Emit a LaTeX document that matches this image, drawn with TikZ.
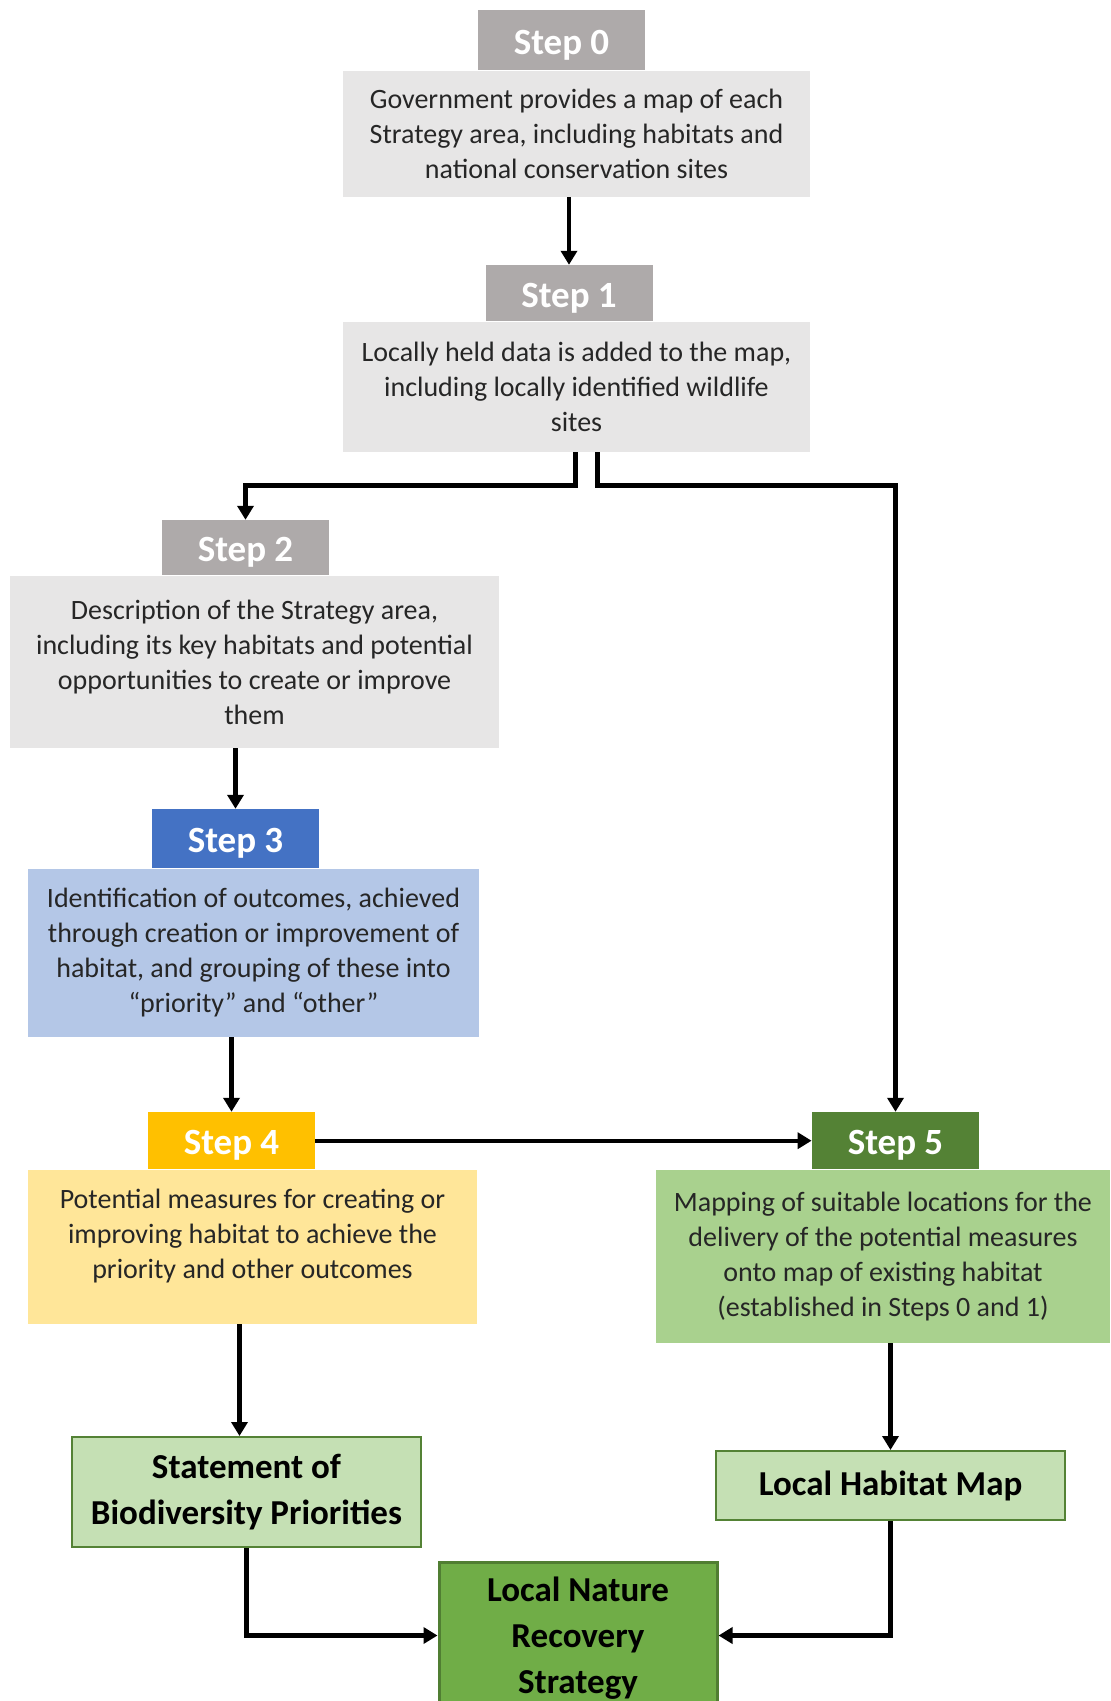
\documentclass[tikz,border=0pt]{standalone}
\usepackage{fontspec}
\setmainfont{Carlito}
\usetikzlibrary{positioning,arrows.meta}

\definecolor{tabGrey}{HTML}{AEAAAA}
\definecolor{boxGrey}{HTML}{E7E6E6}
\definecolor{tabBlue}{HTML}{4472C4}
\definecolor{boxBlue}{HTML}{B4C7E7}
\definecolor{tabGold}{HTML}{FFC000}
\definecolor{boxGold}{HTML}{FFE699}
\definecolor{tabGreen}{HTML}{548235}
\definecolor{boxGreen}{HTML}{A9D18E}
\definecolor{outGreen}{HTML}{C5E0B4}
\definecolor{nrsGreen}{HTML}{70AD47}
\definecolor{nrsEdge}{HTML}{507E32}
\definecolor{textGrey}{HTML}{262626}

\tikzset{
  steptab/.style={fill=#1, text=white, font=\fontsize{18.5}{22}\selectfont\bfseries,
    minimum width=83.5pt, minimum height=28.5pt, inner sep=0pt,
    text height=14pt, text depth=0pt},
  stepbox/.style={fill=#1, text=textGrey, font=\fontsize{14}{17.5}\selectfont,
    align=center, inner sep=0pt},
  outbox/.style={fill=outGreen, draw=tabGreen, line width=1pt, text=black,
    font=\fontsize{17.5}{23}\selectfont\bfseries, align=center, minimum width=174.5pt},
  flow/.style={line width=2.2pt, -{Triangle[length=7pt,width=8pt]}},
}

\begin{document}
\begin{tikzpicture}[x=0.5pt, y=-0.5pt]
% page frame, the last box runs off the bottom edge
\useasboundingbox (0,0) rectangle (1110,1701);
\clip (0,0) rectangle (1110,1701);
\fill[white] (0,0) rectangle (1110,1701);

% Step boxes
\node[stepbox=boxGrey, minimum width=233.5pt, minimum height=63pt] (box0) at (576.5,134)
  {Government provides a map of each\\Strategy area, including habitats and\\national conservation sites};
\node[stepbox=boxGrey, minimum width=233.5pt, minimum height=65pt] (box1) at (576.5,387)
  {Locally held data is added to the map,\\including locally identified wildlife\\sites};
\node[stepbox=boxGrey, minimum width=244.5pt, minimum height=86pt] (box2) at (254.5,662)
  {Description of the Strategy area,\\including its key habitats and potential\\opportunities to create or improve\\them};
\node[stepbox=boxBlue, minimum width=225.5pt, minimum height=84pt] (box3) at (253.5,953)
  {Identification of outcomes, achieved\\through creation or improvement of\\habitat, and grouping of these into\\“priority” and “other”};
\node[stepbox=boxGold, minimum width=224.5pt, minimum height=77pt, text depth=13.5pt] (box4) at (252.5,1247)
  {Potential measures for creating or\\improving habitat to achieve the\\priority and other outcomes};
\node[stepbox=boxGreen, minimum width=227pt, minimum height=86.5pt] (box5) at (883,1256.5)
  {Mapping of suitable locations for the\\delivery of the potential measures\\onto map of existing habitat\\(established in Steps 0 and 1)};

% Step tabs
\node[steptab=tabGrey, minimum height=30pt, above=0pt of box0, xshift=-7.5pt] (tab0) {Step 0};
\node[steptab=tabGrey, minimum height=28pt, above=0pt of box1, xshift=-3.75pt] (tab1) {Step 1};
\node[steptab=tabGrey, minimum height=27.5pt, above=0pt of box2, xshift=-4.5pt] (tab2) {Step 2};
\node[steptab=tabBlue, minimum height=29.5pt, above=0pt of box3, xshift=-9pt] (tab3) {Step 3};
\node[steptab=tabGold, above=0pt of box4, xshift=-10.5pt] (tab4) {Step 4};
\node[steptab=tabGreen, above=0pt of box5, xshift=6.25pt] (tab5) {Step 5};

% Outputs
\node[outbox, minimum height=55pt] (stmt) at (246.5,1492) {Statement of\\Biodiversity Priorities};
\node[outbox, minimum height=34.5pt] (lhm) at (890.5,1485.5) {Local Habitat Map};
\node[outbox, fill=nrsGreen, draw=nrsEdge, line width=1.5pt, minimum width=139pt,
  minimum height=73.5pt, text depth=0pt] (lnrs) at (578,1635.5) {Local Nature\\Recovery\\Strategy};

% Connectors
\draw[flow] (box0.south -| tab1.north) -- (tab1.north);
\draw[flow] ([xshift=-0.5pt]box1.south) -- ++(0,33) -| (tab2.north);
\draw[flow] ([xshift=10.5pt]box1.south) -- ++(0,33) -| (tab5.north);
\draw[flow] (box2.south -| tab3.north) -- (tab3.north);
\draw[flow] (box3.south -| tab4.north) -- (tab4.north);
\draw[flow] (tab4.east) -- (tab5.west);
\draw[flow] ([xshift=-6.5pt]box4.south) -- ([xshift=-3.5pt]stmt.north);
\draw[flow] (box5.south -| lhm.north) -- (lhm.north);
\draw[flow] (stmt.south) |- (lnrs.west);
\draw[flow] (lhm.south) |- (lnrs.east);
\end{tikzpicture}
\end{document}
